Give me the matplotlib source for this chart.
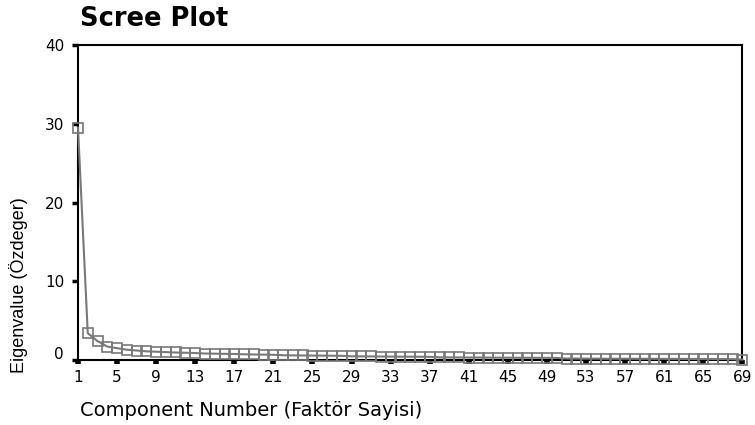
import matplotlib.pyplot as plt
import matplotlib.transforms as mtransforms
import numpy as np

components = np.arange(1, 70)
eigenvalues = [29.5, 3.4, 2.4, 1.7, 1.5, 1.3, 1.2, 1.1, 1.05, 1.0,
               0.95, 0.92, 0.88, 0.82, 0.80, 0.78, 0.76, 0.72, 0.70, 0.68,
               0.66, 0.60, 0.58, 0.57, 0.56, 0.55, 0.54, 0.53, 0.47, 0.46,
               0.45, 0.44, 0.43, 0.42, 0.42, 0.41, 0.40, 0.33, 0.33, 0.32,
               0.31, 0.31, 0.30, 0.29, 0.29, 0.28, 0.28, 0.27, 0.27, 0.26,
               0.18, 0.18, 0.17, 0.17, 0.16, 0.16, 0.16, 0.15, 0.15, 0.15,
               0.14, 0.14, 0.14, 0.13, 0.13, 0.12, 0.12, 0.10, 0.05]
x_ticks = list(range(1, 70, 4))
y_ticks = [0, 10, 20, 30, 40]

plt.rcParams['font.family'] = ['DejaVu Sans']

fig = plt.figure(figsize=(7.55, 4.25), dpi=100)
ax = fig.add_axes([0.1033, 0.153, 0.880, 0.741])

ax.plot(components, eigenvalues, color='#787878', lw=1.5,
        marker='s', markersize=7.5, markerfacecolor='none',
        markeredgecolor='#787878', markeredgewidth=1.2, clip_on=False,
        zorder=3)

ax.set_xlim(1, 69)
ax.set_ylim(0, 40)
ax.set_xticks(x_ticks)
ax.set_yticks(y_ticks)

for s in ax.spines.values():
    s.set_linewidth(1.5)
    s.set_color('black')

ax.tick_params(axis='x', direction='out', length=3, width=4, pad=4,
               labelsize=11)
ax.tick_params(axis='y', direction='out', length=4, width=2.5, pad=6,
               labelsize=11)

# the "0" label sits a little above the axis line in the original
lab0 = ax.yaxis.get_major_ticks()[0].label1
lab0.set_transform(lab0.get_transform() +
                   mtransforms.ScaledTranslation(0, 7 / 100, fig.dpi_scale_trans))

fig.text(0.106, 0.955, 'Scree Plot', fontsize=18.5, fontweight='bold',
         ha='left', va='center')
fig.text(0.106, 0.035, 'Component Number (Faktör Sayisi)', fontsize=14,
         ha='left', va='center')
fig.text(0.024, 0.33, 'Eigenvalue (Özdeger)', fontsize=13, rotation=90,
         ha='center', va='center',
         family=['Liberation Sans Narrow', 'Liberation Sans', 'DejaVu Sans'])

fig.savefig('out.png', dpi=100)
